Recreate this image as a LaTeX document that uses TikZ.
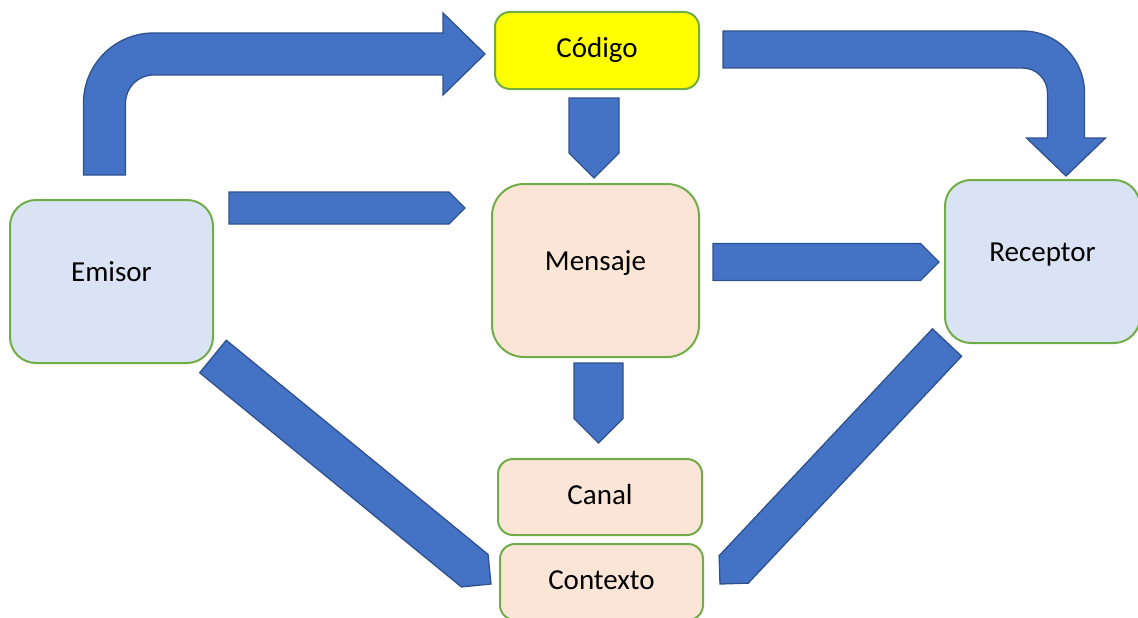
\documentclass[tikz,border=0pt]{standalone}
\usepackage{fontspec}
\setmainfont{Carlito}
\usepackage{tikz}
\usetikzlibrary{calc}
\usepackage{xcolor}
\definecolor{afill}{HTML}{4472C4}
\definecolor{aline}{HTML}{2F528F}
\definecolor{bline}{HTML}{70AD47}
\definecolor{bblue}{HTML}{DAE3F3}
\definecolor{bpeach}{HTML}{FBE5D6}
\definecolor{byellow}{HTML}{FFFF00}

% straight block arrow: tail, tip, half width (head length = half width)
\newcommand{\blockarr}[3]{%
  \coordinate (tmp) at ($(#2)!#3!(#1)$);
  \filldraw[barrow] ($(#1)!#3!90:(#2)$) -- ($(tmp)!#3!90:(#2)$) -- (#2)
    -- ($(tmp)!#3!-90:(#2)$) -- ($(#1)!#3!-90:(#2)$) -- cycle;
}

\begin{document}
\begin{tikzpicture}[x=1pt,y=-1pt,
  box/.style={draw=bline,line width=2pt,rounded corners=#1,align=center,
    font=\fontsize{29}{34}\selectfont,text height=20pt},
  tallbox/.style={box=26pt,text depth=20pt},
  smallbox/.style={box=15pt,text depth=6pt},
  barrow/.style={fill=afill,draw=aline,line width=1.3pt,line join=miter}]
  \useasboundingbox (0,0) rectangle (1138,618);
  % boxes
  \node[smallbox,fill=byellow,minimum width=204pt,minimum height=77pt] (codigo) at (597,50.5) {Código};
  \node[tallbox,fill=bblue,minimum width=203pt,minimum height=163pt] (emisor) at (111.5,281.5) {Emisor};
  \node[tallbox,fill=bpeach,minimum width=207pt,minimum height=173pt,rounded corners=32pt] (mensaje) at (595.5,270.5) {Mensaje};
  \node[tallbox,fill=bblue,minimum width=195pt,minimum height=163pt] (receptor) at (1042.5,261.5) {Receptor};
  \node[smallbox,fill=bpeach,minimum width=204pt,minimum height=76pt] (canal) at (600,497) {Canal};
  \node[smallbox,fill=bpeach,minimum width=203pt,minimum height=76pt] (contexto) at (601.5,582) {Contexto};
  % arrow ends
  \coordinate (cm-a) at ($(codigo.south)+(-3,8)$);
  \coordinate (cm-b) at ($(mensaje.north)+(-1.5,-5)$);
  \coordinate (mc-a) at ($(mensaje.south)+(3,5)$);
  \coordinate (mc-b) at ($(canal.north)+(-1.5,-15)$);
  \coordinate (em-a) at ($(emisor.north east)+(15,9)$);
  \coordinate (em-b) at ($(mensaje.north west)+(-26,25)$);
  \coordinate (mr-a) at ($(mensaje.east)+(13,-8.5)$);
  \coordinate (mr-b) at ($(receptor.west)+(-5,0.5)$);
  \coordinate (ex-a) at ($(emisor.south east)+(-1,-7.5)$);
  \coordinate (ex-b) at ($(contexto.west)+(-8,2)$);
  \coordinate (rx-a) at ($(receptor.south west)+(3,-1.5)$);
  \coordinate (rx-b) at ($(contexto.east)+(16,2)$);
  \blockarr{cm-a}{cm-b}{25pt}
  \blockarr{mc-a}{mc-b}{24.5pt}
  \blockarr{em-a}{em-b}{16pt}
  \blockarr{mr-a}{mr-b}{18.5pt}
  \blockarr{ex-a}{ex-b}{21pt}
  \blockarr{rx-a}{rx-b}{20pt}
  % bent arrow emisor -> codigo
  \coordinate (ec-a) at ($(emisor.north)+(-7,-24)$);
  \coordinate (ec-b) at ($(codigo.west)+(-9,3.5)$);
  \coordinate (ec-k) at (ec-a |- ec-b);
  \filldraw[barrow] ($(ec-a)+(-21,0)$) -- ($(ec-k)+(-21,49)$)
    .. controls ($(ec-k)+(-21,10.4)$) and ($(ec-k)+(10.4,-21)$) .. ($(ec-k)+(49,-21)$)
    -- ($(ec-b)+(-42,-21)$) -- ($(ec-b)+(-42,-41)$) -- (ec-b) -- ($(ec-b)+(-42,41)$)
    -- ($(ec-b)+(-42,21)$) -- ($(ec-k)+(49,21)$)
    .. controls ($(ec-k)+(33.5,21)$) and ($(ec-k)+(21,33.5)$) .. ($(ec-k)+(21,49)$)
    -- ($(ec-a)+(21,0)$) -- cycle;
  % bent arrow codigo -> receptor
  \coordinate (cr-a) at ($(codigo.east)+(23,-1)$);
  \coordinate (cr-b) at ($(receptor.north)+(23.5,-3)$);
  \coordinate (cr-k) at (cr-b |- cr-a);
  \filldraw[barrow] ($(cr-a)+(0,-18.5)$) -- ($(cr-k)+(-43.5,-18.5)$)
    .. controls ($(cr-k)+(-9.3,-18.5)$) and ($(cr-k)+(18.5,9.3)$) .. ($(cr-k)+(18.5,43.5)$)
    -- ($(cr-b)+(18.5,-38)$) -- ($(cr-b)+(39.5,-38)$) -- (cr-b) -- ($(cr-b)+(-39.5,-38)$)
    -- ($(cr-b)+(-18.5,-38)$) -- ($(cr-k)+(-18.5,43.5)$)
    .. controls ($(cr-k)+(-18.5,29.7)$) and ($(cr-k)+(-29.7,18.5)$) .. ($(cr-k)+(-43.5,18.5)$)
    -- ($(cr-a)+(0,18.5)$) -- cycle;
\end{tikzpicture}
\end{document}
